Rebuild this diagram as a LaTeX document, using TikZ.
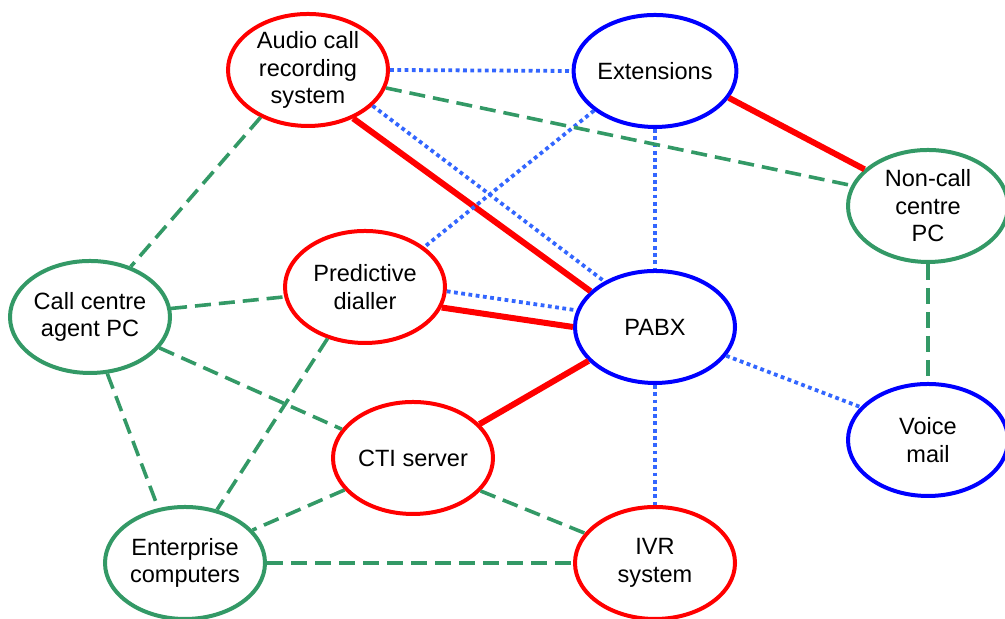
\documentclass[tikz,border=0pt]{standalone}
\usepackage{fontspec}
\setmainfont{Liberation Sans}
\usetikzlibrary{shapes.geometric}
\definecolor{cred}{RGB}{255,0,0}
\definecolor{cblue}{RGB}{0,0,255}
\definecolor{cdot}{RGB}{51,102,255}
\definecolor{cgreen}{RGB}{51,153,102}
\tikzset{
  unit/.style={ellipse, draw, fill=white, line width=0.04cm, minimum width=1.60cm, minimum height=1.12cm,
    inner sep=0pt, align=center, font=\fontsize{6.7}{7.8}\selectfont},
  redunit/.style={unit, draw=cred},
  blueunit/.style={unit, draw=cblue},
  greenunit/.style={unit, draw=cgreen},
  trunk/.style={cred, line width=0.06cm},
  ctrl/.style={cdot, line width=0.038cm, dash pattern=on 0.038cm off 0.035cm},
  lan/.style={cgreen, line width=0.036cm, dash pattern=on 0.16cm off 0.08cm},
}

\begin{document}
\begin{tikzpicture}
\useasboundingbox (0,0) rectangle (10.05,6.19);
% units, top to bottom
\node[redunit]   (audio)   at (3.08,5.49) {Audio call\\recording\\system};
\node[blueunit]  (ext)     at (6.55,5.48) {Extensions};
\node[greenunit] (noncall) at (9.28,4.13) {Non-call\\centre\\PC};
\node[greenunit] (agent)   at (0.90,3.02) {Call centre\\agent PC};
\node[redunit]   (dialler) at (3.65,3.32) {Predictive\\dialler};
\node[blueunit]  (pabx)    at (6.55,2.92) {PABX};
\node[blueunit]  (vmail)   at (9.28,1.79) {Voice\\mail};
\node[redunit]   (cti)     at (4.13,1.61) {CTI server};
\node[greenunit] (ent)     at (1.85,0.56) {Enterprise\\computers};
\node[redunit]   (ivr)     at (6.55,0.56) {IVR\\system};
%
\draw[trunk] (audio.-47) -- (pabx.151);
\draw[trunk] (ext.-20) -- (noncall.150);
\draw[trunk] (dialler.-15) -- (pabx.180);
\draw[trunk] (pabx.-153) -- (cti.27);
%
\draw[ctrl] (audio.east) -- (ext.west);
\draw[ctrl] (audio.-29) -- (pabx.138);
\draw[ctrl] (ext.-147) -- (dialler.34);
\draw[ctrl] (ext.south) -- (pabx.north);
\draw[ctrl] (dialler.-3.5) -- (pabx.168);
\draw[ctrl] (pabx.-22) -- (vmail.154);
\draw[ctrl] (pabx.south) -- (ivr.north);
%
\draw[lan] (audio.-13.5) -- (noncall.165);
\draw[lan] (audio.-135) -- (agent.51);
\draw[lan] (noncall.south) -- (vmail.north);
\draw[lan] (agent.6) -- (dialler.187);
\draw[lan] (agent.-24.6) -- (cti.158);
\draw[lan] (agent.-73) -- (ent.116);
\draw[lan] (dialler.-126) -- (ent.59.5);
\draw[lan] (cti.205) -- (ent.26);
\draw[lan] (cti.-26) -- (ivr.157);
\draw[lan] (ent.east) -- (ivr.west);
\end{tikzpicture}
\end{document}
